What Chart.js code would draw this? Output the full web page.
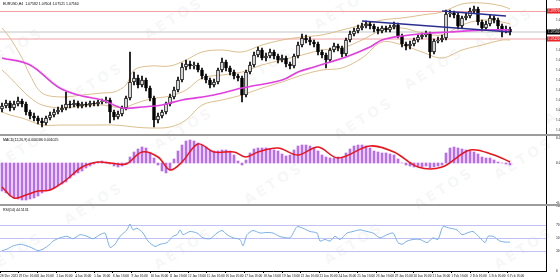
<!DOCTYPE html>
<html><head><meta charset="utf-8">
<script src="https://cdn.jsdelivr.net/npm/chart.js@4.4.1/dist/chart.umd.min.js"></script>
<style>
html,body{margin:0;padding:0;background:#fff;}
body{position:relative;width:560px;height:279px;overflow:hidden;font-family:"DejaVu Sans",Arial,sans-serif;}
canvas{position:absolute;left:0;}
.wm{position:absolute;font-weight:bold;font-size:14px;color:rgba(0,0,0,0.055);transform:rotate(-32deg);letter-spacing:3px;white-space:nowrap;}
.sep{position:absolute;left:0;width:560px;background:#9c9c9c;}
.hdr{position:absolute;left:3px;font-family:"Liberation Sans Narrow","Liberation Sans",sans-serif;font-size:3.5px;line-height:4px;color:#000;white-space:nowrap;}
</style></head><body>
<div id="wm"></div>
<canvas id="cMain" width="560" height="135" style="top:0"></canvas>
<canvas id="cMacd" width="560" height="70" style="top:135px"></canvas>
<canvas id="cRsi" width="560" height="73" style="top:206px"></canvas>
<div class="sep" style="top:134px;height:2px"></div>
<div class="sep" style="top:204px;height:2px"></div>
<div class="hdr" style="top:2px">EURUSD,H4&nbsp; 1.07582 1.07604 1.07521 1.07560</div>
<div class="hdr" style="top:138px">MACD(12,26,9) 0.000186 0.001025</div>
<div class="hdr" style="top:208px">RSI(14) 44.5131</div>
<script>
// ---------- DATA ----------
const xLabels = ["28 Dec 2023","29 Dec 16:00","2 Jan 16:00","3 Jan 16:00","4 Jan 16:00","5 Jan 16:00","8 Jan 16:00","9 Jan 16:00","10 Jan 16:00","11 Jan 16:00","12 Jan 16:00","15 Jan 16:00","16 Jan 16:00","17 Jan 16:00","18 Jan 16:00","19 Jan 16:00","22 Jan 16:00","23 Jan 16:00","24 Jan 16:00","25 Jan 16:00","26 Jan 16:00","29 Jan 16:00","30 Jan 16:00","31 Jan 16:00","1 Feb 16:00","2 Feb 16:00","5 Feb 16:00","6 Feb 16:00"];

const opens = [1.0602,1.0608,1.0614,1.0604,1.0612,1.0618,1.0612,1.0596,1.0588,1.0584,
1.0578,1.0574,1.0584,1.0590,1.0596,1.0600,1.0604,1.0612,1.0610,1.0614,
1.0608,1.0612,1.0610,1.0614,1.0612,1.0616,1.0618,1.0620,1.0596,1.0586,
1.0592,1.0604,1.0624,1.0656,1.0664,1.0650,1.0660,1.0644,1.0624,1.0580,
1.0588,1.0596,1.0612,1.0626,1.0640,1.0660,1.0686,1.0692,1.0688,1.0690,
1.0680,1.0668,1.0660,1.0650,1.0656,1.0680,1.0696,1.0684,1.0676,1.0668,
1.0664,1.0630,1.0676,1.0690,1.0710,1.0720,1.0704,1.0708,1.0716,1.0708,
1.0700,1.0704,1.0692,1.0688,1.0708,1.0730,1.0744,1.0740,1.0736,1.0732,
1.0716,1.0710,1.0700,1.0720,1.0728,1.0724,1.0712,1.0740,1.0752,1.0758,
1.0764,1.0768,1.0772,1.0768,1.0762,1.0758,1.0764,1.0760,1.0766,1.0770,
1.0748,1.0732,1.0728,1.0732,1.0740,1.0746,1.0750,1.0752,1.0716,1.0738,
1.0740,1.0744,1.0792,1.0794,1.0790,1.0768,1.0784,1.0788,1.0798,1.0802,
1.0776,1.0764,1.0772,1.0784,1.0780,1.0768,1.0760,1.0762];
const highs = [1.0614,1.0620,1.0618,1.0618,1.0626,1.0622,1.0616,1.0600,1.0594,1.0588,
1.0584,1.0588,1.0596,1.0602,1.0606,1.0610,1.0636,1.0618,1.0620,1.0618,
1.0616,1.0616,1.0618,1.0618,1.0620,1.0622,1.0626,1.0624,1.0600,1.0598,
1.0608,1.0628,1.0716,1.0676,1.0670,1.0668,1.0664,1.0648,1.0628,1.0594,
1.0600,1.0616,1.0632,1.0646,1.0666,1.0694,1.0700,1.0698,1.0696,1.0694,
1.0684,1.0672,1.0664,1.0662,1.0684,1.0704,1.0700,1.0688,1.0680,1.0672,
1.0668,1.0680,1.0696,1.0716,1.0726,1.0724,1.0714,1.0722,1.0720,1.0712,
1.0710,1.0708,1.0696,1.0712,1.0736,1.0752,1.0750,1.0746,1.0740,1.0736,
1.0720,1.0714,1.0724,1.0734,1.0732,1.0728,1.0744,1.0758,1.0764,1.0770,
1.0774,1.0778,1.0776,1.0772,1.0766,1.0768,1.0768,1.0770,1.0776,1.0774,
1.0752,1.0736,1.0738,1.0744,1.0750,1.0754,1.0758,1.0756,1.0742,1.0746,
1.0750,1.0800,1.0800,1.0798,1.0794,1.0788,1.0794,1.0804,1.0808,1.0806,
1.0780,1.0778,1.0790,1.0788,1.0784,1.0772,1.0768,1.0766];
const lows = [1.0596,1.0604,1.0598,1.0600,1.0608,1.0606,1.0590,1.0582,1.0578,1.0572,
1.0566,1.0570,1.0580,1.0586,1.0592,1.0596,1.0600,1.0604,1.0606,1.0604,
1.0604,1.0606,1.0606,1.0608,1.0608,1.0612,1.0614,1.0574,1.0580,1.0582,
1.0588,1.0600,1.0620,1.0650,1.0644,1.0646,1.0638,1.0618,1.0566,1.0574,
1.0584,1.0592,1.0608,1.0622,1.0636,1.0656,1.0680,1.0682,1.0682,1.0676,
1.0662,1.0654,1.0644,1.0646,1.0652,1.0676,1.0678,1.0670,1.0662,1.0658,
1.0616,1.0626,1.0672,1.0686,1.0706,1.0700,1.0698,1.0704,1.0702,1.0694,
1.0696,1.0686,1.0682,1.0684,1.0704,1.0726,1.0734,1.0730,1.0726,1.0710,
1.0704,1.0684,1.0696,1.0716,1.0718,1.0706,1.0708,1.0736,1.0748,1.0754,
1.0760,1.0764,1.0762,1.0756,1.0752,1.0754,1.0756,1.0756,1.0762,1.0744,
1.0726,1.0720,1.0722,1.0728,1.0736,1.0742,1.0746,1.0704,1.0712,1.0734,
1.0736,1.0740,1.0786,1.0784,1.0762,1.0764,1.0780,1.0784,1.0794,1.0770,
1.0758,1.0760,1.0768,1.0774,1.0762,1.0746,1.0754,1.0750];
const closes = [1.0608,1.0614,1.0604,1.0612,1.0618,1.0612,1.0596,1.0588,1.0584,1.0578,
1.0574,1.0584,1.0590,1.0596,1.0600,1.0604,1.0612,1.0610,1.0614,1.0608,
1.0612,1.0610,1.0614,1.0612,1.0616,1.0618,1.0620,1.0596,1.0586,1.0592,
1.0604,1.0624,1.0656,1.0664,1.0650,1.0660,1.0644,1.0624,1.0580,1.0588,
1.0596,1.0612,1.0626,1.0640,1.0660,1.0686,1.0692,1.0688,1.0690,1.0680,
1.0668,1.0660,1.0650,1.0656,1.0680,1.0696,1.0684,1.0676,1.0668,1.0664,
1.0630,1.0676,1.0690,1.0710,1.0720,1.0704,1.0708,1.0716,1.0708,1.0700,
1.0704,1.0692,1.0688,1.0708,1.0730,1.0744,1.0740,1.0736,1.0732,1.0716,
1.0710,1.0700,1.0720,1.0728,1.0724,1.0712,1.0740,1.0752,1.0758,1.0764,
1.0768,1.0772,1.0768,1.0762,1.0758,1.0764,1.0760,1.0766,1.0770,1.0748,
1.0732,1.0728,1.0732,1.0740,1.0746,1.0750,1.0752,1.0716,1.0738,1.0740,
1.0744,1.0792,1.0794,1.0790,1.0768,1.0784,1.0788,1.0798,1.0802,1.0776,
1.0764,1.0772,1.0784,1.0780,1.0768,1.0760,1.0762,1.0756];

// Bollinger bands (read at these bar positions)
const bbX     = [0,2,5,7,10,15,20,25,28,31,33,37,42,46,50,55,60,65,70,75,80,85,90,95,100,105,110,115,120,125,127];
const bbUpper = [1.0764,1.0744,1.0704,1.0670,1.0634,1.0626,1.0630,1.0634,1.0636,1.0650,1.0680,1.0688,1.0688,1.0700,1.0716,1.0720,1.0716,1.0730,1.0740,1.0746,1.0750,1.0760,1.0770,1.0780,1.0784,1.0790,1.0796,1.0812,1.0814,1.0808,1.0802];
const bbMid   = [1.0680,1.0665,1.0640,1.0625,1.0610,1.0604,1.0608,1.0610,1.0606,1.0606,1.0612,1.0622,1.0628,1.0640,1.0664,1.0670,1.0676,1.0690,1.0700,1.0710,1.0720,1.0724,1.0740,1.0760,1.0764,1.0754,1.0750,1.0770,1.0780,1.0776,1.0772];
const bbLower = [1.0596,1.0590,1.0584,1.0578,1.0570,1.0570,1.0570,1.0570,1.0570,1.0568,1.0566,1.0564,1.0566,1.0580,1.0610,1.0620,1.0630,1.0644,1.0656,1.0670,1.0680,1.0684,1.0704,1.0736,1.0730,1.0716,1.0704,1.0720,1.0730,1.0740,1.0740];

// Long moving average (magenta)
const maX = [0,7,14,19,25,30,35,40,45,53,60,70,74,78,82,86,92,95,100,107,112,121,127];
const maV = [1.0704,1.0690,1.0646,1.0630,1.0620,1.0604,1.0606,1.0610,1.0620,1.0630,1.0644,1.0660,1.0676,1.0686,1.0696,1.0706,1.0726,1.0740,1.0748,1.0754,1.0756,1.0760,1.0760];

// Trend lines (bar position, price)
const trendLower = [[90,1.0778],[127,1.0756]];
const trendUpper = [[110,1.0798],[126,1.0788]];
// Horizontal levels
const redLevels = [1.0797, 1.0742];

// MACD histogram (one per bar) and signal line
const macdHist = [-0.0028,-0.0030,-0.0033,-0.0035,-0.0036,-0.0037,-0.0037,-0.0036,-0.0035,-0.0033,
-0.0030,-0.0028,-0.0027,-0.0025,-0.0023,-0.0021,-0.0019,-0.0015,-0.0012,-0.0010,
-0.0008,-0.0005,-0.0003,-0.0001,0.0001,0.0002,0.0001,-0.0001,-0.0003,-0.0004,
-0.0003,-0.0001,0.0006,0.0011,0.0014,0.0016,0.0015,0.0010,0.0005,-0.0002,
-0.0008,-0.0010,-0.0007,0.0004,0.0012,0.0018,0.0022,0.0023,0.0022,0.0020,
0.0018,0.0016,0.0013,0.0012,0.0012,0.0013,0.0013,0.0012,0.0008,0.0002,
-0.0002,0.0003,0.0010,0.0014,0.0015,0.0015,0.0015,0.0014,0.0013,0.0012,
0.0009,0.0007,0.0008,0.0013,0.0017,0.0018,0.0018,0.0017,0.0015,0.0012,
0.0008,0.0006,0.0005,0.0005,0.0006,0.0006,0.0010,0.0014,0.0017,0.0018,
0.0018,0.0017,0.0015,0.0012,0.0011,0.0010,0.0010,0.0009,0.0008,0.0004,
0.0000,-0.0002,-0.0003,-0.0004,-0.0003,-0.0004,-0.0003,-0.0005,-0.0004,-0.0003,
-0.0002,0.0010,0.0015,0.0016,0.0015,0.0014,0.0013,0.0012,0.0011,0.0009,
0.0006,0.0005,0.0005,0.0003,0.0001,0.0000,-0.0001,-0.0002];
const sigX = [0,3,6,9,12,16,20,24,27,31,35,39,42,45,49,53,58,61,64,69,74,79,84,92,98,104,110,117,123,127];
const sigV = [-0.0024,-0.0035,-0.0032,-0.0028,-0.0027,-0.0017,-0.0004,0.0001,0.0000,-0.0001,0.0011,0.0006,-0.0007,0.0001,0.0019,0.0011,0.0011,0.0006,0.0011,0.0015,0.0008,0.0016,0.0005,0.0017,0.0011,-0.0004,-0.0004,0.0013,0.0008,0.0001];
const macdTicks = [0.0025, 0, -0.0040];

// RSI
const rsiX = [0,1.25,2.75,4.5,6.25,7.75,9,10.25,12,12.75,14.5,16.25,17.75,19.5,21.25,22.75,24.5,25.75,27,28.25,29.5,31.25,32,32.75,33.75,35.25,36.5,38.25,39.5,41.25,42.75,43.75,44.5,45.25,47,48.75,50.25,52,53.75,55,56.25,57.75,59.5,60.25,61.25,62.75,64.5,66.25,67.75,69.5,72,73.75,75.25,77,78.75,79.5,80.75,82,83.25,84.5,86.25,87.75,89.5,91.25,92.75,94.5,96.25,97.75,99,100,101.25,102.75,104.5,106.25,107.75,109,110.25,112,113.75,115,116.25,117.75,119.5,120.75,121.5,122.75,124.5,125.75,127];
const rsiV = [31.2,33.7,38.6,41.1,38.6,34.8,31.2,33.7,41.1,46.0,51.0,53.4,49.6,55.9,53.4,49.6,55.9,58.4,36.2,41.1,53.4,63.3,72.2,63.3,65.8,58.4,46.0,37.7,41.1,43.6,53.4,55.9,63.3,55.9,60.8,58.4,51.0,49.6,58.4,62.3,55.9,51.0,48.5,38.6,55.9,62.3,58.4,59.3,58.4,53.0,51.0,68.2,65.8,60.8,58.4,46.0,48.5,46.0,53.4,48.5,58.4,60.8,63.3,60.8,58.4,51.0,55.9,58.4,43.6,41.1,46.0,48.5,48.5,43.6,51.0,48.5,68.2,65.8,63.3,55.9,58.4,60.8,51.0,43.6,53.4,53.4,46.0,44.5,44.5];
const rsiLevels = [70, 50, 30];
const rsiTicks = [100, 70, 50, 30, 0];

// ---------- CHARTS ----------
const X_MIN = -0.5, X_MAX = 136;
const FONT = {family:'Liberation Sans Narrow', size:3.5};
const common = {responsive:false, animation:false, events:[], layout:{padding:0},
  plugins:{legend:{display:false}, tooltip:{enabled:false}}};
const noPad = (s) => { s.paddingTop = 0; s.paddingBottom = 0; s.paddingLeft = 0; s.paddingRight = 0; };
const hiddenX = {type:'linear', min:X_MIN, max:X_MAX, offset:false, display:false};
const pts = (xs, vs) => xs.map((x,k)=>({x, y:vs[k]}));
const hline = (v) => [{x:X_MIN,y:v},{x:X_MAX,y:v}];
const line = (data, color, width, order, extra) => Object.assign({type:'line', data, borderColor:color, borderWidth:width, pointRadius:0, tension:0.35, order}, extra||{});
const rightAxis = (extra) => Object.assign({position:'right', grid:{display:false},
  border:{display:true, color:'#000', width:1},
  afterFit(s){ s.width = 14; noPad(s); }}, extra);

const idx = closes.map((_,i)=>i);
const lastClose = closes[closes.length-1];

const priceTags = {
  id:'priceTags',
  afterDraw(chart){
    const ctx = chart.ctx, y = chart.scales.y;
    const tag = (v, bg) => {
      const py = y.getPixelForValue(v);
      ctx.save(); ctx.fillStyle = bg; ctx.fillRect(547, Math.round(py)-2.5, 13, 5);
      ctx.fillStyle = '#fff'; ctx.font = '3.5px "Liberation Sans Narrow"'; ctx.textBaseline='middle';
      ctx.fillText(v.toFixed(5), 548, py); ctx.restore();
    };
    redLevels.forEach(v => tag(v, '#e8262a'));
    tag(lastClose, '#000');
  }
};

new Chart(document.getElementById('cMain'), {
  type:'bar',
  data:{datasets:[
    line(hline(redLevels[0]), '#f2a0a6', 1, 12, {tension:0}),
    line(hline(redLevels[1]), '#f2a0a6', 1, 12, {tension:0}),
    line(hline(lastClose), '#c4c4c4', 1, 12, {tension:0}),
    line(pts(bbX,bbUpper), '#dcbf8e', 1, 9),
    line(pts(bbX,bbMid), '#dcbf8e', 1, 9),
    line(pts(bbX,bbLower), '#dcbf8e', 1, 9),
    {type:'bar', data: idx.map(i=>({x:i, y:[lows[i], highs[i]]})), backgroundColor:'#000',
      barThickness:1, grouped:false, order:7},
    {type:'bar', data: idx.map(i=>({x:i, y:[opens[i], closes[i]]})),
      backgroundColor: idx.map(i=> closes[i]>=opens[i] ? '#ffffff' : '#000000'),
      borderColor:'#000', borderWidth:1, borderSkipped:false, barThickness:3, minBarLength:1,
      grouped:false, order:6},
    line(pts(maX,maV), '#e23fe0', 1.7, 3),
    line(trendLower.map(p=>({x:p[0],y:p[1]})), '#2b2f8f', 1.3, 1, {tension:0}),
    line(trendUpper.map(p=>({x:p[0],y:p[1]})), '#2b2f8f', 1.3, 1, {tension:0})
  ]},
  options:Object.assign({}, common, {scales:{
    x:hiddenX,
    y:rightAxis({min:1.0550, max:1.0820,
      ticks:{font:FONT, color:'#000', padding:2, stepSize:0.002, includeBounds:false, callback:v=>v.toFixed(5)}})
  }}),
  plugins:[priceTags]
});

new Chart(document.getElementById('cMacd'), {
  type:'bar',
  data:{datasets:[
    {type:'bar', data: idx.map(i=>({x:i, y:macdHist[i]})), backgroundColor:'#b86ee6',
      barThickness:2, grouped:false, order:5},
    line(pts(sigX,sigV), '#e8161c', 1.5, 1)
  ]},
  options:Object.assign({}, common, {scales:{
    x:hiddenX,
    y:rightAxis({min:-0.0042, max:0.0028,
      afterBuildTicks(s){ s.ticks = macdTicks.map(v=>({value:v})); },
      ticks:{font:FONT, color:'#000', padding:2, callback:v=> v===0 ? '0.00' : v.toFixed(6)}})
  }})
});

new Chart(document.getElementById('cRsi'), {
  type:'line',
  data:{datasets:[
    ...rsiLevels.map(v => line(hline(v), '#c2c2f2', 1, 5, {tension:0})),
    line(pts(rsiX,rsiV), '#79aee6', 1, 1, {tension:0.2})
  ]},
  options:Object.assign({}, common, {scales:{
    x:{type:'linear', min:X_MIN, max:X_MAX, offset:false, position:'bottom',
      grid:{display:true, drawOnChartArea:false, tickLength:2, color:'#000'},
      border:{display:true, color:'#000'},
      afterBuildTicks(s){ s.ticks = xLabels.map((_,k)=>({value: X_MIN + k*4.7})); },
      afterFit(s){ s.height = 8; noPad(s); },
      ticks:{font:FONT, color:'#000', padding:1, maxRotation:0, autoSkip:false, align:'start',
        callback:(v,k)=>xLabels[k]}},
    y:rightAxis({min:0, max:100,
      afterBuildTicks(s){ s.ticks = rsiTicks.map(v=>({value:v})); },
      ticks:{font:FONT, color:'#000', padding:2, callback:v=>String(v)}})
  }})
});

// watermark
const wm = document.getElementById('wm');
[[-20,40],[140,10],[310,0],[470,20],[60,75],[230,60],[400,60],[540,95],
 [-10,140],[150,120],[330,110],[490,150],[60,195],[240,175],[410,180],
 [-20,245],[150,240],[320,235],[490,240]].forEach(p=>{
  const d=document.createElement('div'); d.className='wm'; d.textContent='AETOS';
  d.style.left=p[0]+'px'; d.style.top=p[1]+'px'; wm.appendChild(d);
});
</script>
</body></html>
